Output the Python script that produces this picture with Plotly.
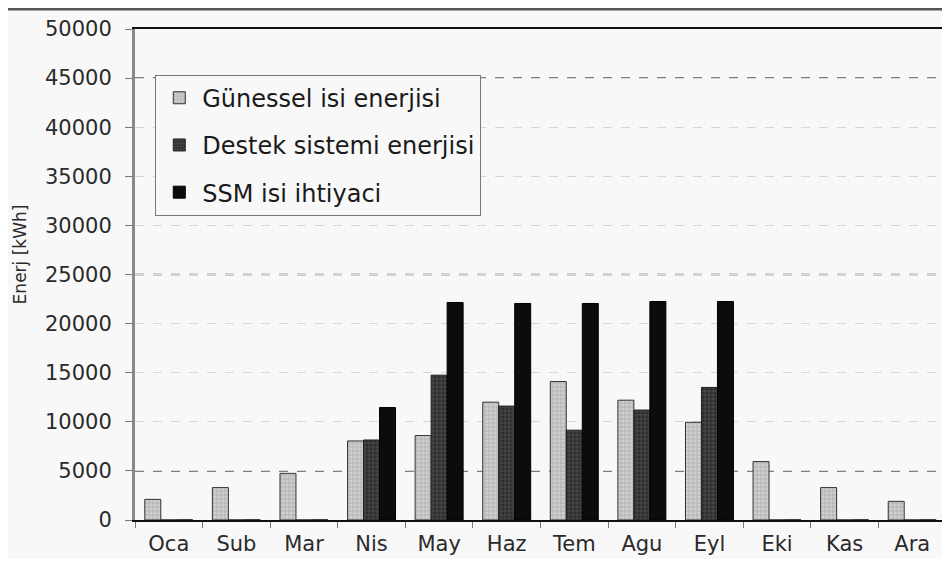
import plotly.graph_objects as go

months = ["Oca", "Sub", "Mar", "Nis", "May", "Haz", "Tem", "Agu", "Eyl", "Eki", "Kas", "Ara"]
gunessel = [2100, 3300, 4750, 8050, 8600, 12000, 14100, 12200, 9950, 5950, 3300, 1900]
destek = [0, 0, 0, 8150, 14750, 11600, 9150, 11200, 13500, 0, 0, 0]
ssm = [0, 0, 0, 11450, 22150, 22050, 22050, 22250, 22250, 0, 0, 0]
names = ["Günessel isi enerjisi", "Destek sistemi enerjisi", "SSM isi ihtiyaci"]
y_ticks = list(range(0, 50001, 5000))
dark_grid = [5000, 25000, 45000]

BG = "#f8f8f8"
FONT = "DejaVu Sans"

fig = go.Figure()
fig.add_trace(go.Bar(
    x=months, y=gunessel, name=names[0], legendgroup="g1",
    marker=dict(color="#c4c4c4", line=dict(color="#333", width=1),
                pattern=dict(shape="+", bgcolor="#cfcfcf", fgcolor="#8a8a8a", size=4, solidity=0.35)),
))
fig.add_trace(go.Bar(
    x=months, y=destek, name=names[1], legendgroup="g2",
    marker=dict(color="#3a3a3a", line=dict(color="#222", width=1),
                pattern=dict(shape="+", bgcolor="#2e2e2e", fgcolor="#707070", size=4, solidity=0.35)),
))
fig.add_trace(go.Bar(
    x=months, y=ssm, name=names[2], legendgroup="g3",
    marker=dict(color="#0c0c0c", line=dict(color="#000", width=1)),
))

shapes = [dict(type="line", xref="paper", yref="y", x0=0, x1=1, y0=g, y1=g, layer="below",
               line=dict(color="#555", width=1.5, dash="dash")) for g in dark_grid]
shapes.append(dict(type="line", xref="paper", yref="paper", x0=-0.17, x1=1.02,
                   y0=1.04, y1=1.04, line=dict(color="#555", width=2.5)))

fig.update_layout(
    width=942, height=551,
    paper_bgcolor=BG, plot_bgcolor=BG,
    margin=dict(l=127, r=4, t=21, b=39),
    barmode="group", bargap=0.29, bargroupgap=0,
    font=dict(family=FONT, size=21, color="#2a2a2a"),
    showlegend=True,
    legend=dict(x=0.025, y=0.907, xanchor="left", yanchor="top",
                bgcolor=BG, bordercolor="#777", borderwidth=1,
                font=dict(family=FONT, size=24, color="#1a1a1a"),
                itemwidth=36,
                traceorder="grouped", tracegroupgap=13),
    xaxis=dict(showline=True, linecolor="#111", linewidth=2, mirror=True,
               ticks="outside", tickson="boundaries", ticklen=6, tickcolor="#777",
               ticklabelstandoff=4, showgrid=False, automargin=False,
               tickfont=dict(family=FONT, size=21, color="#2a2a2a")),
    yaxis=dict(range=[0, 50000], tickvals=y_ticks, tickformat="d",
               showline=True, linecolor="#8a8a8a", linewidth=3, mirror=True,
               ticks="outside", ticklen=7, tickcolor="#777", ticklabelstandoff=9,
               showgrid=True, gridcolor="#d6d6d6", griddash="dash", gridwidth=1,
               zeroline=False, automargin=False,
               tickfont=dict(family=FONT, size=21, color="#2a2a2a")),
    annotations=[dict(text="Enerj [kWh]", textangle=-90, xref="paper", yref="paper",
                      x=-0.1413, y=0.5418, xanchor="center", yanchor="middle", showarrow=False,
                      font=dict(family=FONT, size=17, color="#2a2a2a"))],
    shapes=shapes,
)

fig.write_html("out.html")
